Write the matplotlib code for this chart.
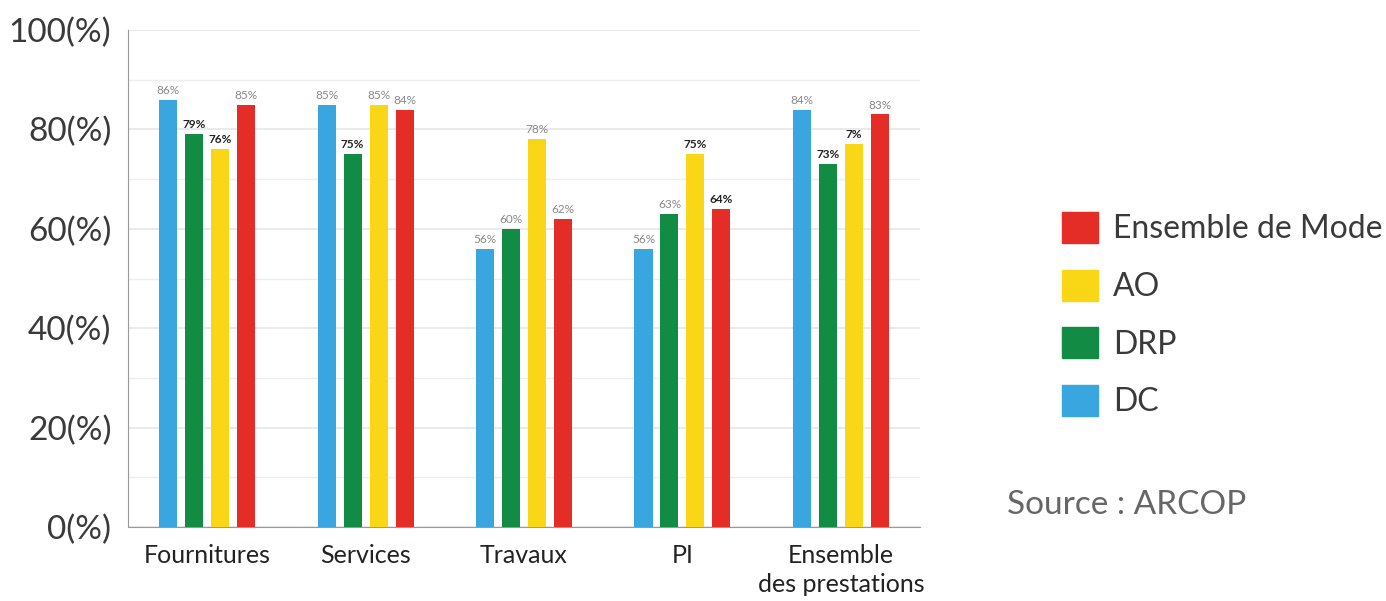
import numpy as np
import matplotlib
matplotlib.use("Agg")
import matplotlib.pyplot as plt
from matplotlib.patches import Patch

plt.rcParams["font.family"] = ["Lato", "DejaVu Sans"]

categories = ["Fournitures", "Services", "Travaux", "PI", "Ensemble\ndes prestations"]
series = ["DC", "DRP", "AO", "Ensemble de Mode"]
dc = [86, 85, 56, 56, 84]
drp = [79, 75, 60, 63, 73]
ao = [76, 85, 78, 75, 77]
ens = [85, 84, 62, 64, 83]
# labels as printed on the chart (the last AO label reads "7%")
dc_lab = ["86%", "85%", "56%", "56%", "84%"]
drp_lab = ["79%", "75%", "60%", "63%", "73%"]
ao_lab = ["76%", "85%", "78%", "75%", "7%"]
ens_lab = ["85%", "84%", "62%", "64%", "83%"]
# which labels are printed dark/bold
drp_bold = [1, 1, 0, 0, 1]
ao_bold = [1, 0, 0, 1, 1]
ens_bold = [0, 0, 0, 1, 0]
dc_bold = [0, 0, 0, 0, 0]

colors = ["#3aa6e0", "#128c44", "#f9d616", "#e52d27"]

fig = plt.figure(figsize=(13.86, 6.01), dpi=100)
ax = fig.add_axes([0.0924, 0.1231, 0.5714, 0.827])

x = np.arange(len(categories))
step, w = 0.164, 0.114
data = [(dc, dc_lab, dc_bold), (drp, drp_lab, drp_bold), (ao, ao_lab, ao_bold), (ens, ens_lab, ens_bold)]
for i, (vals, labs, bold) in enumerate(data):
    xs = x + (i - 1.5) * step
    ax.bar(xs, vals, width=w, color=colors[i], zorder=3)
    for xx, v, lb, b in zip(xs, vals, labs, bold):
        ax.text(xx, v + 0.8, lb, ha="center", va="bottom", fontsize=8.5,
                color="#222222" if b else "#888888", fontweight="bold" if b else "normal", zorder=4)

ax.set_xlim(-0.5, 4.5)
ax.set_ylim(0, 100)
ax.set_yticks(range(0, 101, 20))
ax.set_yticklabels([f"{v}(%)" for v in range(0, 101, 20)], fontsize=24, color="#3a3a3a")
ax.set_yticks(range(10, 100, 20), minor=True)
ax.set_xticks(x)
ax.set_xticklabels(categories, fontsize=18, color="#222222", linespacing=1.35)
ax.tick_params(axis="both", which="both", length=0)
ax.tick_params(axis="x", pad=12)
ax.tick_params(axis="y", pad=12)
ax.grid(axis="y", which="major", color="#e6e6e6", lw=1.2, zorder=0)
ax.grid(axis="y", which="minor", color="#eeeeee", lw=1.0, zorder=0)
for s in ["top", "right"]:
    ax.spines[s].set_visible(False)
ax.spines["left"].set_color("#999999")
ax.spines["bottom"].set_color("#999999")

handles = [Patch(color=colors[i], label=series[i]) for i in [3, 2, 1, 0]]
fig.legend(handles=handles, loc="upper left", bbox_to_anchor=(0.7455, 0.695), frameon=False,
           fontsize=23, handlelength=1.12, handleheight=1.12, handletextpad=0.47,
           labelspacing=0.79, labelcolor="#3a3a3a")
fig.text(0.7266, 0.16, "Source : ARCOP", fontsize=24, color="#666666", va="center")

fig.savefig("out.png", dpi=100)
